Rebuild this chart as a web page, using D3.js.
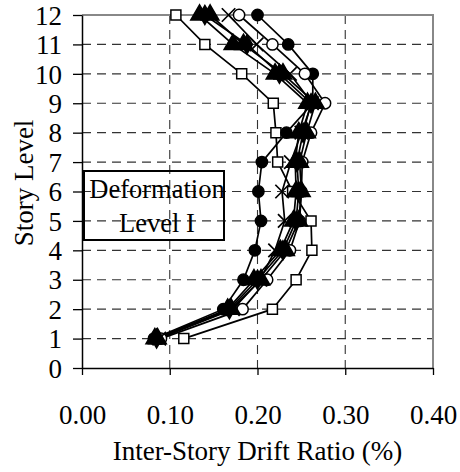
<!DOCTYPE html>
<html>
<head>
<meta charset="utf-8">
<script src="https://cdn.jsdelivr.net/npm/d3@7"></script>
<style>
  html, body { margin: 0; padding: 0; background: #fff; }
  svg { display: block; font-family: "Liberation Serif", "Times New Roman", serif; }
</style>
</head>
<body>
<svg id="chart" width="460" height="472"></svg>
<script>
// Story levels (y) and inter-story drift ratios (%) for each record
const levels = [1, 2, 3, 4, 5, 6, 7, 8, 9, 10, 11, 12];
const driftSquare   = [0.116, 0.217, 0.244, 0.262, 0.261, 0.240, 0.223, 0.221, 0.218, 0.182, 0.140, 0.107];
const driftDot      = [0.082, 0.161, 0.184, 0.197, 0.204, 0.201, 0.205, 0.233, 0.263, 0.263, 0.235, 0.200];
const driftCircle   = [0.090, 0.183, 0.211, 0.237, 0.248, 0.250, 0.251, 0.261, 0.277, 0.254, 0.217, 0.179];
const driftCross    = [0.088, 0.172, 0.203, 0.220, 0.231, 0.228, 0.238, 0.250, 0.262, 0.237, 0.199, 0.167];
const driftTriA     = [0.083, 0.166, 0.196, 0.226, 0.241, 0.244, 0.243, 0.247, 0.257, 0.220, 0.172, 0.134];
const driftTriB     = [0.086, 0.170, 0.204, 0.232, 0.247, 0.250, 0.248, 0.256, 0.266, 0.229, 0.184, 0.146];
const driftDiamond  = [0.085, 0.168, 0.200, 0.229, 0.244, 0.247, 0.245, 0.252, 0.261, 0.225, 0.188, 0.140];

const xTicks = [0.0, 0.1, 0.2, 0.3, 0.4];
const yTicks = [0, 1, 2, 3, 4, 5, 6, 7, 8, 9, 10, 11, 12];

const series = [
  { values: driftSquare,  marker: "square"   },
  { values: driftDot,     marker: "dot"      },
  { values: driftCircle,  marker: "circle"   },
  { values: driftCross,   marker: "cross"    },
  { values: driftDiamond, marker: "diamond"  },
  { values: driftTriA,    marker: "triangle" },
  { values: driftTriB,    marker: "triangle" }
];

const svg = d3.select("#chart");
const m = { left: 82, top: 15, right: 433, bottom: 368 };

const x = d3.scaleLinear().domain([0, 0.4]).range([m.left, m.right]);
const y = d3.scaleLinear().domain([0, 12]).range([m.bottom, m.top]);

// dashed grid
const grid = svg.append("g");
grid.selectAll("line.h").data(yTicks.filter(d => d > 0 && d < 12)).join("line")
  .attr("x1", m.left).attr("x2", m.right)
  .attr("y1", d => y(d)).attr("y2", d => y(d))
  .attr("stroke", "#333").attr("stroke-width", 1.1)
  .attr("stroke-dasharray", "9,6");
grid.selectAll("line.v").data(xTicks.filter(d => d > 0 && d < 0.4)).join("line")
  .attr("x1", d => x(d)).attr("x2", d => x(d))
  .attr("y1", m.top).attr("y2", m.bottom)
  .attr("stroke", "#333").attr("stroke-width", 1.1)
  .attr("stroke-dasharray", "9,6");

// frame top/right
svg.append("path")
  .attr("d", `M${m.left},${m.top}H${m.right}V${m.bottom}`)
  .attr("fill", "none").attr("stroke", "#888").attr("stroke-width", 2);

// annotation box
const box = svg.append("g");
box.append("rect")
  .attr("x", 84).attr("y", 171).attr("width", 140).attr("height", 69)
  .attr("fill", "none").attr("stroke", "#000").attr("stroke-width", 2);
box.append("text").attr("x", 157).attr("y", 198).attr("text-anchor", "middle")
  .attr("font-size", 26.5).text("Deformation");
box.append("text").attr("x", 157).attr("y", 232).attr("text-anchor", "middle")
  .attr("font-size", 26.5).text("Level I");

// profiles
const line = d3.line().x(d => x(d[0])).y(d => y(d[1]));
const plot = svg.append("g");
series.forEach(s => {
  const pts = s.values.map((v, i) => [v, levels[i]]);
  plot.append("path").datum(pts)
    .attr("d", line)
    .attr("fill", "none").attr("stroke", "#000").attr("stroke-width", 1.7);
});

const sym = {
  square:   d3.symbol().type(d3.symbolSquare).size(100),
  dot:      d3.symbol().type(d3.symbolCircle).size(100),
  circle:   d3.symbol().type(d3.symbolCircle).size(100),
  cross:    d3.symbol().type(d3.symbolX).size(120),
  diamond:  d3.symbol().type(d3.symbolDiamond).size(105),
  triangle: d3.symbol().type(d3.symbolTriangle).size(135)
};
const filled = { square: false, dot: true, circle: false, cross: false, diamond: true, triangle: true };

series.forEach(s => {
  plot.append("g").selectAll("path").data(s.values.map((v, i) => [v, levels[i]])).join("path")
    .attr("transform", d => `translate(${x(d[0])},${y(d[1])})`)
    .attr("d", sym[s.marker]())
    .attr("fill", filled[s.marker] ? "#000" : (s.marker === "cross" ? "none" : "#fff"))
    .attr("stroke", "#000").attr("stroke-width", s.marker === "cross" ? 1.7 : 1.5);
});

// axes
const xAxis = d3.axisBottom(x).tickValues(xTicks).tickFormat(d3.format(".2f"))
  .tickSizeInner(7).tickSizeOuter(0).tickPadding(30);
const gx = svg.append("g").attr("transform", `translate(0,${m.bottom})`).call(xAxis);
const yAxis = d3.axisLeft(y).tickValues(yTicks).tickFormat(d3.format("d"))
  .tickSizeInner(9).tickSizeOuter(0).tickPadding(11);
const gy = svg.append("g").attr("transform", `translate(${m.left},0)`).call(yAxis);
[gx, gy].forEach(g => {
  g.selectAll("path.domain").attr("stroke", "#000").attr("stroke-width", 1.5);
  g.selectAll(".tick line").attr("stroke", "#000").attr("stroke-width", 1.3);
  g.selectAll("text").attr("fill", "#000").attr("font-size", 27)
    .attr("font-family", "Liberation Serif, Times New Roman, serif");
});
gy.selectAll("text").attr("dy", "0.34em");

// axis titles
svg.append("text").attr("x", (m.left + m.right) / 2).attr("y", 460)
  .attr("text-anchor", "middle").attr("font-size", 27)
  .text("Inter-Story Drift Ratio (%)");
svg.append("text").attr("transform", "translate(33,183) rotate(-90)")
  .attr("text-anchor", "middle").attr("font-size", 27)
  .text("Story Level");
</script>
</body>
</html>
